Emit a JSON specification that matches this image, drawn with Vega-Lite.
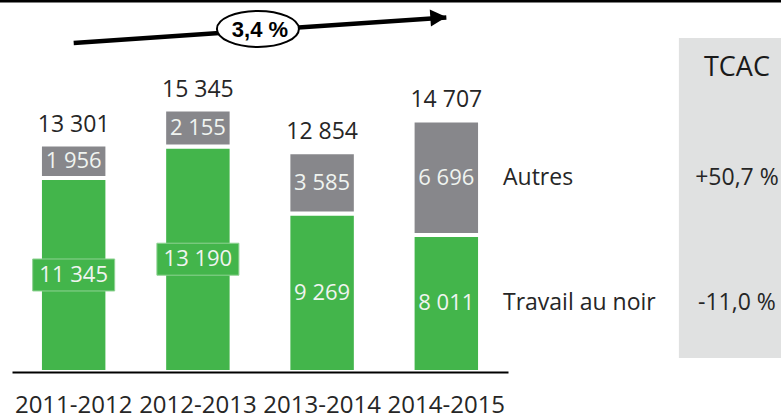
{
  "$schema": "https://vega.github.io/schema/vega-lite/v6.json",
  "width": 781,
  "height": 372,
  "autosize": {"type": "none"},
  "padding": {"left": 0, "top": 0, "right": 0, "bottom": 46},
  "background": "white",
  "config": {
    "view": {"stroke": null},
    "font": "Open Sans",
    "locale": {"number": {"decimal": ",", "thousands": " ", "grouping": [3], "currency": ["", " €"]}},
    "axisY": {"disable": true}
  },
  "datasets": {
    "segments": [
      {"year": "2011-2012", "type": "Travail au noir", "value": 11345, "tcac": "-11,0 %"},
      {"year": "2011-2012", "type": "Autres", "value": 1956, "tcac": "+50,7 %"},
      {"year": "2012-2013", "type": "Travail au noir", "value": 13190, "tcac": "-11,0 %"},
      {"year": "2012-2013", "type": "Autres", "value": 2155, "tcac": "+50,7 %"},
      {"year": "2013-2014", "type": "Travail au noir", "value": 9269, "tcac": "-11,0 %"},
      {"year": "2013-2014", "type": "Autres", "value": 3585, "tcac": "+50,7 %"},
      {"year": "2014-2015", "type": "Travail au noir", "value": 8011, "tcac": "-11,0 %"},
      {"year": "2014-2015", "type": "Autres", "value": 6696, "tcac": "+50,7 %"}
    ],
    "trend": [{"from": "2011-2012", "to": "2014-2015", "label": "3,4 %"}],
    "header": [{"title": "TCAC"}]
  },
  "layer": [
    {
      "layer": [
        {
          "data": {"name": "header"},
          "mark": {"type": "rule", "stroke": "black", "strokeWidth": 3},
          "encoding": {"y": {"datum": 21690, "type": "quantitative", "axis": null}}
        },
        {
          "data": {"name": "segments"},
          "mark": {"type": "bar", "stroke": "white", "strokeWidth": 4},
          "encoding": {
            "x": {
              "field": "year", "type": "nominal", "sort": null,
              "scale": {"range": [12, 508], "paddingInner": 0.457, "paddingOuter": 0.225},
              "axis": {"title": null, "ticks": false, "tickSize": 0, "domainColor": "black", "domainWidth": 2,
                "labelFontSize": 24, "labelColor": "#262626", "labelPadding": 40, "labelBaseline": "alphabetic",
                "labelAngle": 0, "zindex": 1, "labelFont": "Open Sans"}
            },
            "y": {"field": "value", "type": "quantitative", "stack": "zero",
              "scale": {"domain": [0, 21750], "nice": false}, "axis": null},
            "color": {"field": "type", "type": "nominal",
              "scale": {"domain": ["Travail au noir", "Autres"], "range": ["#43b54b", "#87878b"]}, "legend": null},
            "order": {"field": "type", "sort": "descending"}
          }
        },
        {
          "data": {"name": "segments"},
          "transform": [
            {"stack": "value", "groupby": ["year"], "sort": [{"field": "type", "order": "descending"}], "as": ["y0", "y1"]},
            {"fold": ["y0", "y1"], "as": ["edge", "pos"]},
            {"aggregate": [{"op": "mean", "field": "pos", "as": "mid"}], "groupby": ["year", "type", "value"]},
            {"filter": "datum.value >= 10000"}
          ],
          "mark": {"type": "point", "filled": true, "opacity": 1, "fill": "#43b54b", "stroke": "#8fd293", "strokeWidth": 1,
            "shape": "M -1 -0.39 L 1 -0.39 L 1 0.39 L -1 0.39 Z", "size": 6724},
          "encoding": {
            "x": {"field": "year", "type": "nominal", "sort": null},
            "y": {"field": "mid", "type": "quantitative", "axis": null}
          }
        },
        {
          "data": {"name": "segments"},
          "transform": [
            {"stack": "value", "groupby": ["year"], "sort": [{"field": "type", "order": "descending"}], "as": ["y0", "y1"]},
            {"fold": ["y0", "y1"], "as": ["edge", "pos"]},
            {"aggregate": [{"op": "mean", "field": "pos", "as": "mid"}], "groupby": ["year", "type", "value"]}
          ],
          "mark": {"type": "text", "fontSize": 22, "color": "#f0f4f0", "baseline": "middle", "align": "center"},
          "encoding": {
            "x": {"field": "year", "type": "nominal", "sort": null},
            "y": {"field": "mid", "type": "quantitative", "axis": null},
            "text": {"field": "value", "type": "quantitative", "format": ",d"}
          }
        },
        {
          "data": {"name": "segments"},
          "mark": {"type": "text", "fontSize": 23, "color": "#262626", "baseline": "alphabetic", "align": "center", "dy": -13},
          "encoding": {
            "x": {"field": "year", "type": "nominal", "sort": null},
            "y": {"aggregate": "sum", "field": "value", "type": "quantitative", "axis": null},
            "text": {"aggregate": "sum", "field": "value", "type": "quantitative", "format": ",d"}
          }
        },
        {
          "data": {"name": "trend"},
          "mark": {"type": "rule", "stroke": "black", "strokeWidth": 4.5, "strokeCap": "butt"},
          "encoding": {
            "x": {"field": "from", "type": "nominal"},
            "x2": {"field": "to"},
            "y": {"datum": 19240, "type": "quantitative"},
            "y2": {"datum": 20730}
          }
        },
        {
          "data": {"name": "trend"},
          "mark": {"type": "point", "filled": true, "opacity": 1, "fill": "black", "angle": -4,
            "shape": "M 0 0 L -2 -1.06 L -2 1.06 Z", "size": 256},
          "encoding": {
            "x": {"field": "to", "type": "nominal"},
            "y": {"datum": 20760, "type": "quantitative"}
          }
        },
        {
          "data": {"name": "trend"},
          "mark": {"type": "point", "filled": false, "opacity": 1, "fill": "white", "fillOpacity": 1, "stroke": "black", "strokeWidth": 2,
            "shape": "M -1 0 C -1 -0.243 -0.5523 -0.44 0 -0.44 C 0.5523 -0.44 1 -0.243 1 0 C 1 0.243 0.5523 0.44 0 0.44 C -0.5523 0.44 -1 0.243 -1 0 Z",
            "size": 6724},
          "encoding": {
            "x": {"datum": "2012-2013", "type": "nominal", "bandPosition": 1.39},
            "y": {"datum": 20058, "type": "quantitative"}
          }
        },
        {
          "data": {"name": "trend"},
          "mark": {"type": "text", "font": "Liberation Sans", "fontWeight": "bold", "fontSize": 22, "color": "black", "baseline": "middle", "align": "center", "dx": 2, "dy": 1},
          "encoding": {
            "x": {"datum": "2012-2013", "type": "nominal", "bandPosition": 1.39},
            "y": {"datum": 20058, "type": "quantitative"},
            "text": {"field": "label"}
          }
        }
      ]
    },
    {
      "layer": [
        {
          "data": {"name": "header"},
          "mark": {"type": "bar", "fill": "#e0e1e1"},
          "encoding": {
            "x": {"datum": "tcac", "type": "nominal",
              "scale": {"domain": ["label", "tcac"], "range": [503, 795], "paddingInner": 0.34, "paddingOuter": 0}, "axis": null},
            "y": {"datum": 19532, "type": "quantitative"},
            "y2": {"datum": 819}
          }
        },
        {
          "data": {"name": "header"},
          "mark": {"type": "text", "fontSize": 27, "color": "#1a1a1a", "baseline": "middle", "align": "center"},
          "encoding": {
            "x": {"datum": "tcac", "type": "nominal", "axis": null},
            "y": {"datum": 17778, "type": "quantitative"},
            "text": {"field": "title"}
          }
        },
        {
          "data": {"name": "segments"},
          "transform": [
            {"stack": "value", "groupby": ["year"], "sort": [{"field": "type", "order": "descending"}], "as": ["y0", "y1"]},
            {"fold": ["y0", "y1"], "as": ["edge", "pos"]},
            {"aggregate": [{"op": "mean", "field": "pos", "as": "mid"}], "groupby": ["year", "type", "tcac"]},
            {"filter": "datum.year == '2014-2015'"}
          ],
          "layer": [
            {
              "mark": {"type": "text", "fontSize": 23, "color": "#262626", "baseline": "middle", "align": "left"},
              "encoding": {
                "x": {"datum": "label", "type": "nominal", "bandPosition": 0, "axis": null},
                "y": {"field": "mid", "type": "quantitative"},
                "text": {"field": "type"}
              }
            },
            {
              "mark": {"type": "text", "fontSize": 23, "color": "#262626", "baseline": "middle", "align": "center"},
              "encoding": {
                "x": {"datum": "tcac", "type": "nominal", "axis": null},
                "y": {"field": "mid", "type": "quantitative"},
                "text": {"field": "tcac"}
              }
            }
          ]
        }
      ]
    }
  ],
  "resolve": {"scale": {"x": "independent"}, "axis": {"x": "independent"}}
}
